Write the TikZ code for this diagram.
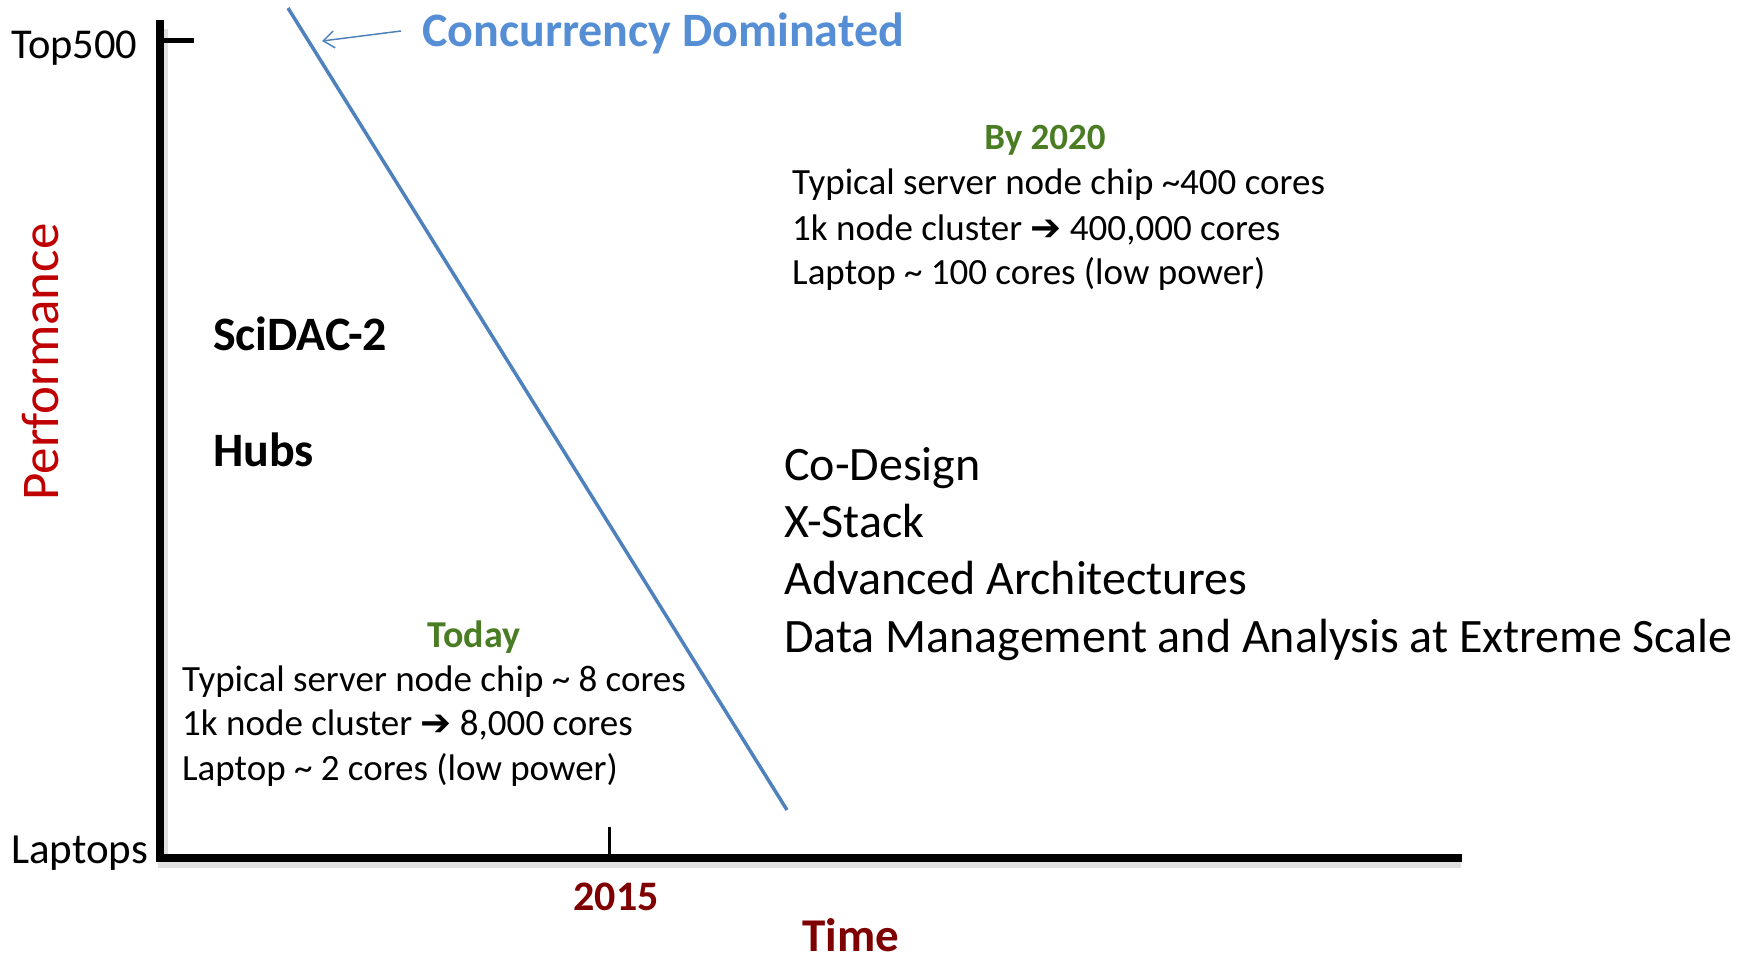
\documentclass[tikz,border=0pt]{standalone}
\usepackage{fontspec}
\setmainfont{Carlito}
\newfontfamily\dejavu{DejaVu Sans}
\usetikzlibrary{arrows.meta}
\definecolor{lineblue}{HTML}{4F81BD}
\definecolor{textblue}{HTML}{558ED5}
\definecolor{dgreen}{HTML}{4A7D23}
\definecolor{dred}{HTML}{7F0000}
\definecolor{pred}{HTML}{C00000}
\newcommand{\fs}[1]{\fontsize{#1}{#1}\selectfont}
\newcommand{\harrow}{{\dejavu\char"2794}}
\tikzset{
  lbl/.style={inner sep=0pt, anchor=base west, font=\fs{37}},
  biglbl/.style={inner sep=0pt, anchor=base west, font=\fs{48}},
  axislbl/.style={inner sep=0pt, anchor=base west, font=\fs{42.5}},
  head/.style={inner sep=0pt, anchor=base, font=\bfseries\fs{37}, text=dgreen},
  boldlbl/.style={inner sep=0pt, anchor=base west, font=\bfseries\fs{48}},
  axisline/.style={line width=8pt, black},
  shadowline/.style={line width=10pt, black, opacity=0.12},
}
\begin{document}
\begin{tikzpicture}[x=1pt, y=-1pt]
\path[use as bounding box] (0,0) rectangle (1748,961);
% axes
\coordinate (ytop) at (160,24);
\coordinate (origin) at (160,858);
\coordinate (xend) at (1458,858);
\draw[shadowline] ([shift={(3,5)}]ytop) -- ([shift={(3,5)}]origin) -- ([shift={(3,5)}]xend);
\draw[axisline, line cap=rect] (ytop) -- (origin) -- (xend);
\coordinate (t1a) at (160,40);
\coordinate (t1b) at (194,40);
\draw[line width=5pt] (t1a) -- (t1b);
\coordinate (t2a) at (609,827);
\coordinate (t2b) at (609,858);
\draw[line width=3pt] (t2a) -- (t2b);
% diagonal
\coordinate (d1) at (288,8);
\coordinate (d2) at (787,810);
\draw[lineblue, line width=3.5pt] (d1) -- (d2);
% labels
\node[axislbl] (top500) at (11,58) {Top500};
\node[axislbl, font=\fs{43}] (laptops) at (11,863) {Laptops};
\node[inner sep=0pt, anchor=base, rotate=90, font=\fs{53}, text=pred] (perf) at (58,362) {Performance};
\node[inner sep=0pt, anchor=base, font=\bfseries\fs{42}, text=dred] (y2015) at (616,910) {2015};
\node[inner sep=0pt, anchor=base, font=\bfseries\fs{47}, text=dred] (time) at (851,951) {Time};
\node[inner sep=0pt, anchor=base west, font=\bfseries\fs{48}, text=textblue] (conc) at (422,46) {Concurrency Dominated};
\coordinate (arrtail) at (401,31);
\coordinate (arrhead) at (322,41);
\draw[lineblue, line width=1.5pt, -{Straight Barb[length=11pt, width=17pt, line width=1.5pt]}] (arrtail) -- (arrhead);
% By 2020
\node[head] (by2020) at (1045,149) {By 2020};
\node[lbl] (f1) at (792,194) {Typical server node chip \textasciitilde400 cores};
\node[lbl] (f2) at (792,240) {1k node cluster \harrow\ 400,000 cores};
\node[lbl] (f3) at (792,284) {Laptop \textasciitilde\ 100 cores (low power)};
% left labels
\node[boldlbl] (scidac) at (213,350) {SciDAC-2};
\node[boldlbl] (hubs) at (213,466) {Hubs};
% programs
\node[biglbl] (p1) at (784,480) {Co-Design};
\node[biglbl] (p2) at (784,537) {X-Stack};
\node[biglbl] (p3) at (784,594) {Advanced Architectures};
\node[biglbl] (p4) at (784,652) {Data Management and Analysis at Extreme Scale};
% Today
\node[head, font=\bfseries\fs{38}] (today) at (474,647) {Today};
\node[lbl] (n1) at (182,691) {Typical server node chip \textasciitilde\ 8 cores};
\node[lbl] (n2) at (182,735) {1k node cluster \harrow\ 8,000 cores};
\node[lbl] (n3) at (182,780) {Laptop \textasciitilde\ 2 cores (low power)};
\end{tikzpicture}
\end{document}
